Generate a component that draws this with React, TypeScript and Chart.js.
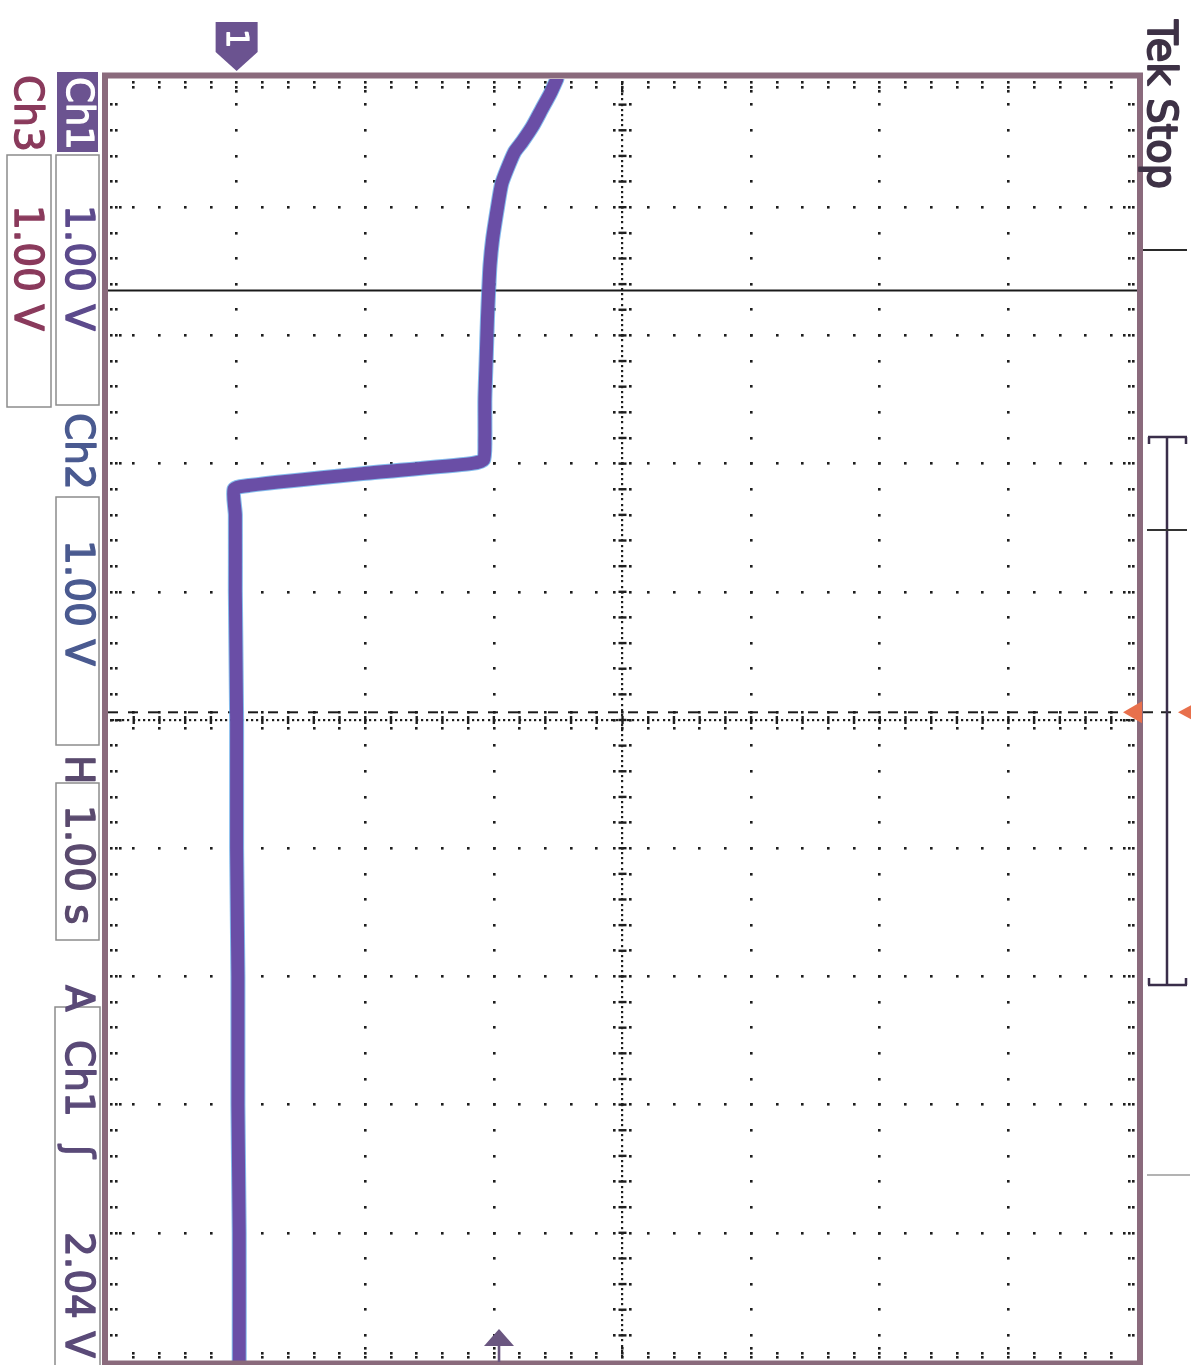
import React, { useEffect, useRef } from "react";
import { Chart, registerables } from "chart.js";

Chart.register(...registerables);

const W = 1192;
const H = 1365;

// Screen: 1.00 V/div (8 div, Ch1 ground one div from the left), 1.00 s/div (10 div, trigger at centre)
const voltRange = [-1, 7];
const timeRange = [-5, 5];
const voltCenter = 3;
const timeCenter = 0;

// Ch1 trace (time in s, voltage in V)
const traceTime = [
  -5.0, -4.89, -4.76, -4.63, -4.51, -4.43, -4.29, -4.18, -4.01, -3.75, -3.55, -3.36, -3.13, -2.81,
  -2.5, -2.19, -2.03, -2.0, -1.92, -1.83, -1.8, -1.6, -1.0, 0.0, 1.0, 2.0, 3.0, 4.0, 5.0,
];
const traceVolts = [
  2.49, 2.44, 2.37, 2.3, 2.22, 2.16, 2.1, 2.06, 2.03, 1.99, 1.97, 1.96, 1.95, 1.94,
  1.93, 1.93, 1.92, 1.82, 0.96, 0.1, -0.02, -0.01, -0.01, 0.0, 0.0, 0.01, 0.01, 0.02, 0.02,
];

const cursorTime = -3.35;
const triggerTime = -0.06;
const triggerLevel = 2.04;
const ch1Ground = 0;

const statusTitle = "Tek Stop";
const ch1Label = "Ch1";
const ch2Label = "Ch2";
const ch3Label = "Ch3";
const ch1Scale = "1.00 V";
const ch2Scale = "1.00 V";
const ch3Scale = "1.00 V";
const horizLabel = "H";
const horizScale = "1.00 s";
const trigLabel = "A";
const trigSource = "Ch1";
const trigSlope = "ʃ";
const trigLevelText = "2.04 V";

const FONT = '"DejaVu Sans", sans-serif';

function vtext(ctx: CanvasRenderingContext2D, txt: string, bx: number, y: number, color: string, size = 39, thick = 1.4) {
  ctx.save();
  ctx.translate(bx, y);
  ctx.rotate(Math.PI / 2);
  ctx.font = `${size}px ${FONT}`;
  ctx.fillStyle = color;
  ctx.strokeStyle = color;
  ctx.lineWidth = thick;
  ctx.lineJoin = "round";
  ctx.textBaseline = "alphabetic";
  ctx.textAlign = "left";
  ctx.fillText(txt, 0, 0);
  if (thick > 0) ctx.strokeText(txt, 0, 0);
  ctx.restore();
}

const graticule = {
  id: "graticule",
  beforeDatasetsDraw(chart: any) {
    const { ctx, chartArea: a, scales } = chart;
    const xs = scales.x;
    const ys = scales.y;
    ctx.save();
    ctx.fillStyle = "#ffffff";
    ctx.fillRect(a.left, a.top, a.right - a.left, a.bottom - a.top);
    ctx.fillStyle = "#1e1e1e";
    const d = (x: number, y: number, s = 2.6) => ctx.fillRect(Math.round(x - s / 2), Math.round(y - s / 2), s, s);
    const nx = (voltRange[1] - voltRange[0]) * 5;
    const ny = (timeRange[1] - timeRange[0]) * 5;
    for (let v = voltRange[0] + 1; v < voltRange[1]; v++) {
      if (v === voltCenter) continue;
      const x = xs.getPixelForValue(v);
      for (let k = 1; k < ny; k++) d(x, ys.getPixelForValue(timeRange[0] + k * 0.2));
    }
    for (let t = timeRange[0] + 1; t < timeRange[1]; t++) {
      if (t === timeCenter) continue;
      const y = ys.getPixelForValue(t);
      for (let k = 1; k < nx; k++) d(xs.getPixelForValue(voltRange[0] + k * 0.2), y);
    }
    for (let k = 1; k < ny; k++) {
      const y = ys.getPixelForValue(timeRange[0] + k * 0.2);
      const offs = k % 5 === 0 ? [3.5, 8, 12.5] : [3.5, 8];
      offs.forEach((o) => {
        d(a.left + o, y);
        d(a.right - o, y);
      });
    }
    for (let k = 1; k < nx; k++) {
      const x = xs.getPixelForValue(voltRange[0] + k * 0.2);
      const offs = k % 5 === 0 ? [3.5, 8, 12.5] : [3.5, 8];
      offs.forEach((o) => {
        d(x, a.top + o);
        d(x, a.bottom - o);
      });
    }
    const cx = xs.getPixelForValue(voltCenter);
    const cy = ys.getPixelForValue(timeCenter);
    for (let k = 1; k < ny * 5; k++) d(cx, ys.getPixelForValue(timeRange[0] + k * 0.04), 2.2);
    for (let k = 1; k < nx * 5; k++) d(xs.getPixelForValue(voltRange[0] + k * 0.04), cy, 2.2);
    for (let k = 1; k < ny; k++) {
      const y = ys.getPixelForValue(timeRange[0] + k * 0.2);
      ctx.fillRect(cx - 4, y - 1.2, 8, 2.4);
      d(cx - 8, y);
      d(cx + 8, y);
    }
    for (let k = 1; k < nx; k++) {
      const x = xs.getPixelForValue(voltRange[0] + k * 0.2);
      ctx.fillRect(x - 1.2, cy - 4, 2.4, 8);
      d(x, cy - 8);
      d(x, cy + 8);
    }
    const yc = ys.getPixelForValue(cursorTime);
    ctx.strokeStyle = "#1a1a1a";
    ctx.lineWidth = 2;
    ctx.beginPath();
    ctx.moveTo(a.left, yc);
    ctx.lineTo(a.right, yc);
    ctx.stroke();
    const yt = ys.getPixelForValue(triggerTime);
    ctx.setLineDash([10, 10]);
    ctx.lineWidth = 2;
    ctx.beginPath();
    ctx.moveTo(a.left, yt);
    ctx.lineTo(a.right, yt);
    ctx.stroke();
    ctx.restore();
  },
  afterDatasetsDraw(chart: any) {
    const { ctx, chartArea: a, scales } = chart;
    const xs = scales.x;
    const ys = scales.y;
    ctx.save();
    ctx.strokeStyle = "#8a6a7c";
    ctx.lineWidth = 6;
    ctx.strokeRect(a.left - 3, a.top - 3.5, a.right - a.left + 6, a.bottom - a.top + 6);

    const gx = xs.getPixelForValue(ch1Ground);
    ctx.fillStyle = "#6b5390";
    ctx.beginPath();
    ctx.moveTo(gx - 21, 22);
    ctx.lineTo(gx + 21, 22);
    ctx.lineTo(gx + 21, 52);
    ctx.lineTo(gx, a.top - 8);
    ctx.lineTo(gx - 21, 52);
    ctx.closePath();
    ctx.fill();
    vtext(ctx, "1", gx - 10, 29, "#ffffff", 30, 1.2);

    const tx = xs.getPixelForValue(triggerLevel);
    ctx.fillStyle = "#6a5680";
    ctx.beginPath();
    ctx.moveTo(tx, 1329);
    ctx.lineTo(tx + 15, 1346);
    ctx.lineTo(tx - 15, 1346);
    ctx.closePath();
    ctx.fill();
    ctx.fillRect(tx - 1.3, 1344, 2.6, 18);

    const yt = ys.getPixelForValue(triggerTime);
    ctx.fillStyle = "#e8704c";
    ctx.beginPath();
    ctx.moveTo(a.right - 14, yt);
    ctx.lineTo(a.right + 5, yt - 11);
    ctx.lineTo(a.right + 5, yt + 11);
    ctx.closePath();
    ctx.fill();
    ctx.beginPath();
    ctx.moveTo(1178, yt);
    ctx.lineTo(1191, yt - 7);
    ctx.lineTo(1191, yt + 7);
    ctx.closePath();
    ctx.fill();
    ctx.strokeStyle = "#222";
    ctx.lineWidth = 2;
    ctx.setLineDash([10, 8]);
    ctx.beginPath();
    ctx.moveTo(a.right + 6, yt);
    ctx.lineTo(1177, yt);
    ctx.stroke();
    ctx.setLineDash([]);

    const hline = (y: number, x1: number, x2: number, c = "#2a2a2a", w = 2) => {
      ctx.strokeStyle = c;
      ctx.lineWidth = w;
      ctx.beginPath();
      ctx.moveTo(x1, y);
      ctx.lineTo(x2, y);
      ctx.stroke();
    };
    hline(250, a.right + 6, 1187);
    hline(437, 1148, 1187, "#3a2e4a", 2.5);
    hline(985, 1148, 1187, "#3a2e4a", 2.5);
    ctx.strokeStyle = "#3a2e4a";
    ctx.lineWidth = 2.5;
    ctx.beginPath();
    ctx.moveTo(1167, 437);
    ctx.lineTo(1167, 985);
    ctx.moveTo(1149, 437);
    ctx.lineTo(1149, 444);
    ctx.moveTo(1186, 437);
    ctx.lineTo(1186, 444);
    ctx.moveTo(1149, 985);
    ctx.lineTo(1149, 978);
    ctx.moveTo(1186, 985);
    ctx.lineTo(1186, 978);
    ctx.stroke();
    hline(530, 1147, 1187, "#333", 1.8);
    hline(1175, 1147, 1190, "#9a9a9a", 1.5);

    vtext(ctx, statusTitle, 1148, 20, "#3e3246", 40, 1.8);

    ctx.strokeStyle = "#8c8c8c";
    ctx.lineWidth = 1.5;
    ctx.strokeRect(7, 155, 44, 252);
    ctx.strokeRect(56, 155, 43, 250);
    ctx.strokeRect(56, 497, 43, 248);
    ctx.strokeRect(56, 783, 43, 157);
    ctx.strokeRect(55, 1007, 45, 370);
    ctx.fillStyle = "#6b5390";
    ctx.fillRect(57, 72, 41, 80);

    vtext(ctx, ch3Label, 15, 75, "#8a3a5c");
    vtext(ctx, ch3Scale, 15, 205, "#8a3a5c");
    vtext(ctx, ch1Label, 67, 77, "#ffffff", 37, 1.2);
    vtext(ctx, ch1Scale, 66, 205, "#5c4a8c");
    vtext(ctx, ch2Label, 66, 413, "#4a5a90");
    vtext(ctx, ch2Scale, 66, 540, "#4a5a90");
    vtext(ctx, horizLabel, 66, 755, "#5a4a6e");
    vtext(ctx, horizScale, 66, 805, "#5a4a6e");
    vtext(ctx, trigLabel, 66, 985, "#5a4a78");
    vtext(ctx, trigSource, 66, 1040, "#5a4a78");
    vtext(ctx, trigSlope, 66, 1145, "#5a4a78");
    vtext(ctx, trigLevelText, 66, 1232, "#5a4a78");
    ctx.restore();
  },
};

export default function App() {
  const ref = useRef<HTMLCanvasElement | null>(null);
  useEffect(() => {
    document.body.style.margin = "0";
    const canvas = ref.current;
    if (!canvas) return;
    const pts = traceTime.map((t, i) => ({ x: traceVolts[i], y: t }));
    const chart = new Chart(canvas, {
      type: "scatter",
      data: {
        datasets: [
          {
            label: "Ch1",
            data: pts,
            showLine: true,
            borderColor: "#6a4ea6",
            borderWidth: 13,
            pointRadius: 0,
            borderJoinStyle: "round",
            borderCapStyle: "round",
            tension: 0.2,
            order: 0,
          },
          {
            label: "Ch2",
            data: pts,
            showLine: true,
            borderColor: "rgba(80,160,230,0.7)",
            borderWidth: 15,
            pointRadius: 0,
            borderJoinStyle: "round",
            borderCapStyle: "round",
            tension: 0.2,
            order: 1,
          },
        ],
      },
      options: {
        responsive: false,
        animation: false,
        devicePixelRatio: 1,
        layout: { padding: { left: 108, right: W - 1137, top: 79, bottom: H - 1361 } },
        scales: {
          x: { type: "linear", min: voltRange[0], max: voltRange[1], display: false },
          y: { type: "linear", min: timeRange[0], max: timeRange[1], reverse: true, display: false },
        },
        plugins: { legend: { display: false }, tooltip: { enabled: false } },
      },
      plugins: [graticule as any],
    });
    return () => chart.destroy();
  }, []);
  return (
    <div style={{ position: "absolute", left: 0, top: 0, width: W, height: H, background: "#fff" }}>
      <canvas ref={ref} width={W} height={H} style={{ display: "block", width: W, height: H }} />
    </div>
  );
}
